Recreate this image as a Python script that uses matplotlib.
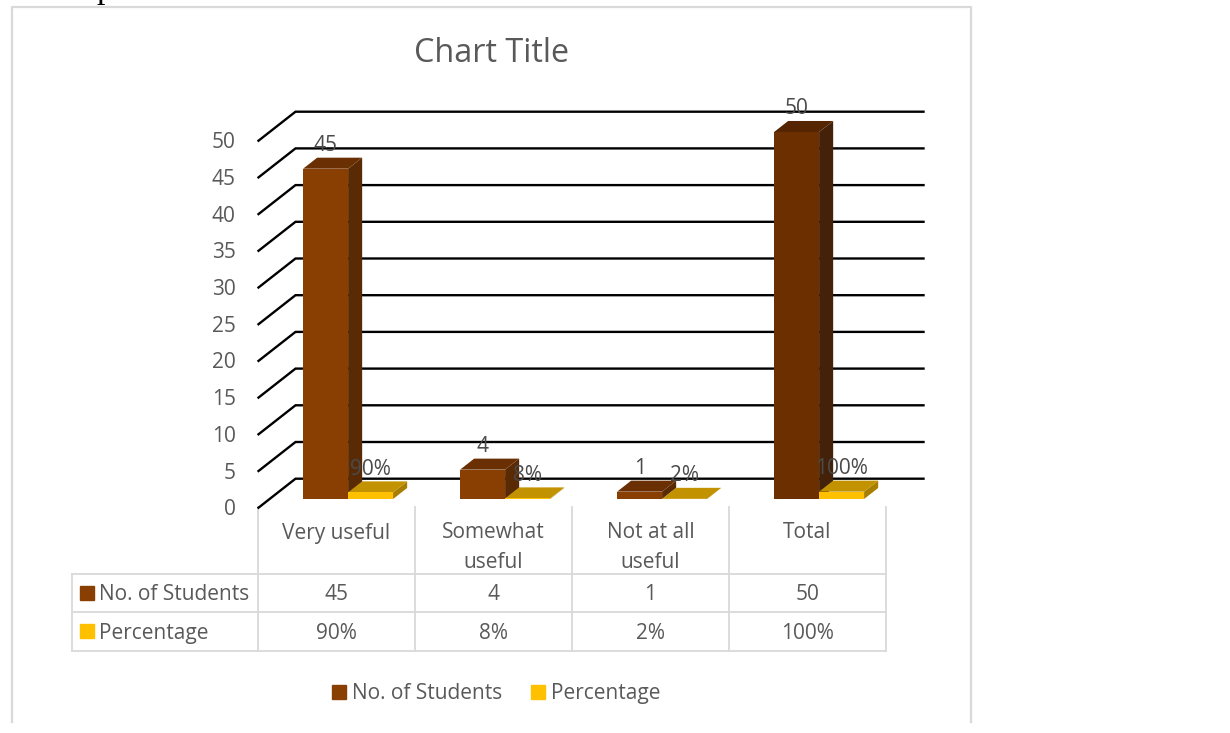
import matplotlib
matplotlib.use("Agg")
import matplotlib.pyplot as plt
from matplotlib.patches import Polygon

plt.rcParams['font.family'] = ['Open Sans', 'DejaVu Sans']

categories = ["Very useful", "Somewhat\nuseful", "Not at all\nuseful", "Total"]
students = [45, 4, 1, 50]
percentage = [0.90, 0.08, 0.02, 1.00]
student_labels = ["45", "4", "1", "50"]
percent_labels = ["90%", "8%", "2%", "100%"]
yticks = [0, 5, 10, 15, 20, 25, 30, 35, 40, 45, 50]

TXT = "#595959"
LABEL = "#4a4a4a"
LINE = "#d9d9d9"
W, H = 1230, 733
FS = 15

# front, top, side colours
STUDENT_COL = ("#8a3f02", "#6a3003", "#5a2a04")
TOTAL_COL = ("#6b2f00", "#542500", "#44220a")
PERCENT_COL = ("#ffc000", "#c29200", "#a87e00")

fig = plt.figure(figsize=(W / 100, H / 100), dpi=100)

# page layer in pixels, for frame and table
page = fig.add_axes([0, 0, 1, 1])
page.set_xlim(0, W)
page.set_ylim(H, 0)
page.axis("off")

# chart layer: x = category, y = value, on the front plane of the 3d box
left, right, y0, y50 = 258.5, 886.5, 507.7, 140.7
ax = fig.add_axes([left / W, 1 - y0 / H, (right - left) / W, (y0 - y50) / H])
ax.set_xlim(0, 4)
ax.set_ylim(0, 50)
ax.axis("off")
ax.patch.set_alpha(0)

# 3d depth of the box in data units
dx = 37 / 157
dy = 29 / 7.34
bar_w = 45 / 157
bar_front = 0.30
bar_depth = 0.38

# frame of the chart
page.plot([12, 12, 971, 971], [722, 6.5, 6.5, 722], color=LINE, lw=1.6)
page.text(105, -10, "p", family="Liberation Serif", fontsize=24, color="black", ha="center", va="center")

page.text(491.5, 53, "Chart Title", fontsize=23.3, color=TXT, ha="center", va="center")

# gridlines and left wall
for v in yticks:
    ax.plot([0, dx, 4 + dx], [v, v + dy, v + dy], color="black", lw=1.7, clip_on=False, zorder=1,
            solid_joinstyle="miter")
    ax.annotate(str(v), (0, v), xytext=(-16.5, -1.5), textcoords="offset points", ha="right", va="center",
                fontsize=FS, color=TXT, annotation_clip=False)


def draw_bar(x, v, cols):
    fx = x + bar_front * dx
    base = bar_front * dy
    ddx = bar_depth * dx
    ddy = bar_depth * dy
    front = [(fx, base), (fx + bar_w, base), (fx + bar_w, base + v), (fx, base + v)]
    top = [(fx, base + v), (fx + bar_w, base + v), (fx + bar_w + ddx, base + v + ddy), (fx + ddx, base + v + ddy)]
    side = [(fx + bar_w, base), (fx + bar_w + ddx, base + ddy), (fx + bar_w + ddx, base + v + ddy), (fx + bar_w, base + v)]
    for pts, c in zip([side, top, front], [cols[2], cols[1], cols[0]]):
        ax.add_patch(Polygon(pts, facecolor=c, edgecolor="none", clip_on=False, zorder=3))


for i in range(len(categories)):
    c = i + 0.5
    col = TOTAL_COL if categories[i] == "Total" else STUDENT_COL
    draw_bar(c - bar_w, students[i], col)
    draw_bar(c, percentage[i], PERCENT_COL)

# data labels sit a fixed distance above the bar top
for i in range(len(categories)):
    c = i + 0.5 + bar_front * dx
    ax.annotate(student_labels[i], (c - bar_w / 2, students[i]), xytext=(0, 23), textcoords="offset points",
                ha="center", va="center", fontsize=FS, color=LABEL, zorder=5, annotation_clip=False)
    ax.annotate(percent_labels[i], (c + bar_w / 2, percentage[i]), xytext=(0, 23), textcoords="offset points",
                ha="center", va="center", fontsize=FS, color=LABEL, zorder=5, annotation_clip=False)

# data table
cols_x = [258, 415, 572, 729, 886]
rows_y = [574, 612, 651]
for x in cols_x:
    page.plot([x, x], [507, 651], color=LINE, lw=1.3)
page.plot([72, 72], [574, 651], color=LINE, lw=1.3)
for y in rows_y:
    page.plot([72, 886], [y, y], color=LINE, lw=1.3)

for i in range(len(categories)):
    cx = (cols_x[i] + cols_x[i + 1]) / 2
    page.text(cx, 533 if "\n" not in categories[i] else 547.5, categories[i], fontsize=FS, color=TXT,
              ha="center", va="center", linespacing=1.5)
    page.text(cx, 595, student_labels[i], fontsize=FS, color=TXT, ha="center", va="center")
    page.text(cx, 633.5, percent_labels[i], fontsize=FS, color=TXT, ha="center", va="center")

series = ["No. of Students", "Percentage"]
swatch = [STUDENT_COL[0], PERCENT_COL[0]]
for y, name, col in zip([592.5, 631], series, swatch):
    page.add_patch(plt.Rectangle((80, y - 7), 14, 14, color=col))
    page.text(99, y + 2, name, fontsize=FS, color=TXT, ha="left", va="center")

# legend
for x, name, col in zip([332, 531], series, swatch):
    page.add_patch(plt.Rectangle((x, 685), 14, 14, color=col))
    page.text(x + 20, 693.5, name, fontsize=FS, color=TXT, ha="left", va="center")

fig.savefig("out.png", dpi=100)
